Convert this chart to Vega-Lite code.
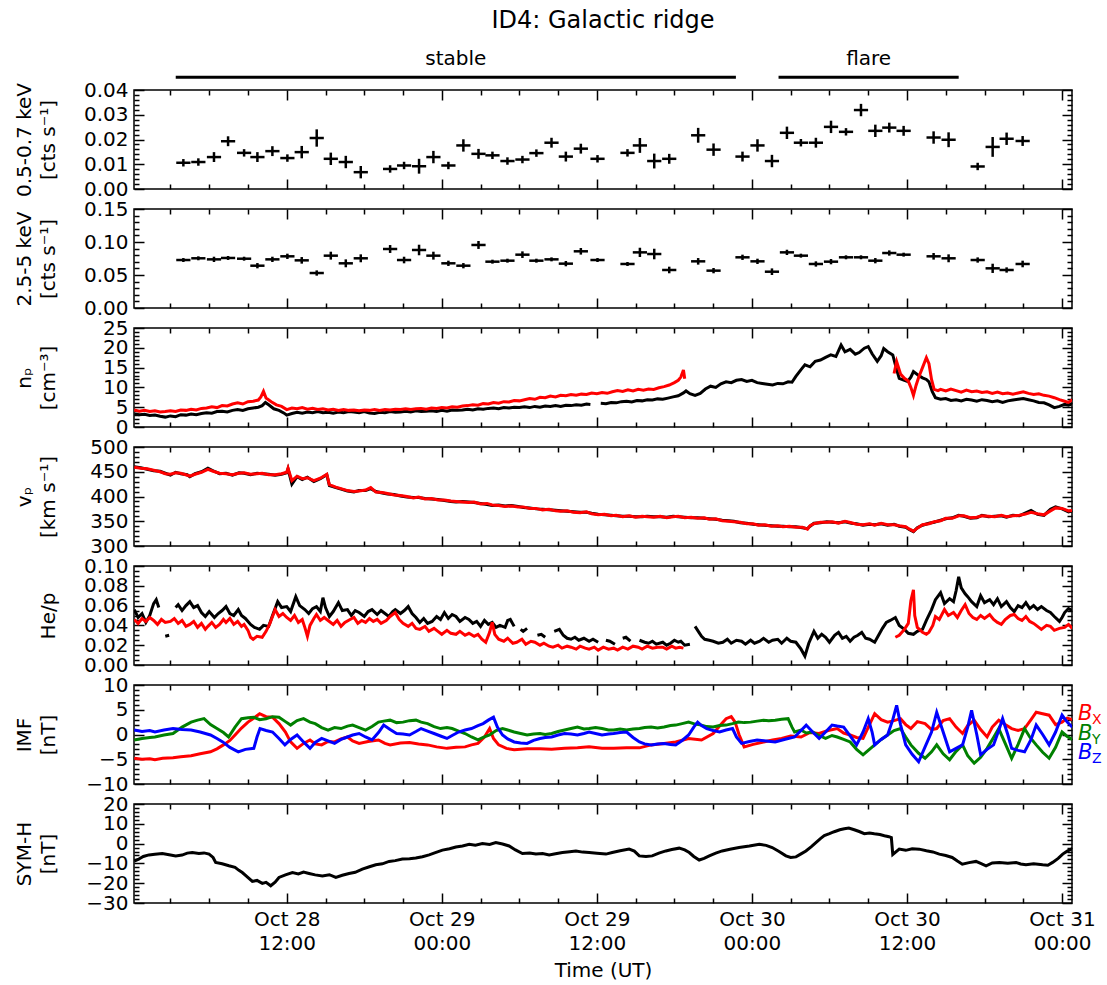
{
  "$schema": "https://vega.github.io/schema/vega-lite/v6.json",
  "background": "white",
  "padding": {"left": 13, "top": 9, "right": 5, "bottom": 5},
  "config": {
    "font": "DejaVu Sans",
    "view": {"stroke": "black", "strokeWidth": 1.5},
    "axis": {"domain": false, "grid": false, "labelFont": "DejaVu Sans", "labelFontSize": 20, "labelColor": "black", "titleFont": "DejaVu Sans", "titleFontSize": 20, "titleFontWeight": "normal", "titleColor": "black", "tickColor": "black", "tickWidth": 1.5, "labelOverlap": false, "labelBound": false, "labelFlush": false, "zindex": 1},
    "axisLeft": {"titleX": -110, "titleBaseline": "middle", "titleAngle": 270, "titleLineHeight": 24, "labelPadding": 6},
    "axisBottom": {"labelPadding": 6, "labelLineHeight": 24, "titlePadding": 7}
  },
  "datasets": {
    "periods": [
      {"lab": "stable", "t0": 3.41, "t1": 46.76},
      {"lab": "flare", "t0": 50.06, "t1": 64.0}
    ],
    "xr": [
      {"t":4.0,"a":0.0106,"ea":0.0015,"b":0.0727,"eb":0.003},
      {"t":5.16,"a":0.0109,"ea":0.0015,"b":0.0753,"eb":0.003},
      {"t":6.37,"a":0.0129,"ea":0.002,"b":0.0737,"eb":0.004},
      {"t":7.46,"a":0.0193,"ea":0.002,"b":0.0758,"eb":0.003},
      {"t":8.7,"a":0.0146,"ea":0.0015,"b":0.0747,"eb":0.003},
      {"t":9.73,"a":0.0129,"ea":0.002,"b":0.0641,"eb":0.004},
      {"t":10.89,"a":0.0153,"ea":0.002,"b":0.0737,"eb":0.004},
      {"t":12.05,"a":0.0125,"ea":0.0015,"b":0.0783,"eb":0.004},
      {"t":13.16,"a":0.0149,"ea":0.0025,"b":0.0722,"eb":0.005},
      {"t":14.32,"a":0.0206,"ea":0.0035,"b":0.053,"eb":0.004},
      {"t":15.41,"a":0.0122,"ea":0.0025,"b":0.0793,"eb":0.006},
      {"t":16.57,"a":0.0109,"ea":0.0025,"b":0.0677,"eb":0.006},
      {"t":17.73,"a":0.0068,"ea":0.0025,"b":0.0753,"eb":0.006},
      {"t":20.0,"a":0.0081,"ea":0.0015,"b":0.0894,"eb":0.006},
      {"t":21.08,"a":0.0095,"ea":0.0015,"b":0.0727,"eb":0.005},
      {"t":22.24,"a":0.0092,"ea":0.003,"b":0.0879,"eb":0.008},
      {"t":23.35,"a":0.0129,"ea":0.0025,"b":0.0793,"eb":0.006},
      {"t":24.51,"a":0.0095,"ea":0.0015,"b":0.0677,"eb":0.004},
      {"t":25.67,"a":0.0176,"ea":0.0025,"b":0.0641,"eb":0.004},
      {"t":26.84,"a":0.0142,"ea":0.002,"b":0.0955,"eb":0.006},
      {"t":27.92,"a":0.0136,"ea":0.0015,"b":0.0702,"eb":0.003},
      {"t":29.08,"a":0.0113,"ea":0.0015,"b":0.0717,"eb":0.003},
      {"t":30.24,"a":0.0119,"ea":0.0015,"b":0.0808,"eb":0.005},
      {"t":31.32,"a":0.0145,"ea":0.0015,"b":0.0717,"eb":0.003},
      {"t":32.49,"a":0.0187,"ea":0.002,"b":0.0737,"eb":0.003},
      {"t":33.6,"a":0.0131,"ea":0.002,"b":0.0672,"eb":0.004},
      {"t":34.76,"a":0.0163,"ea":0.002,"b":0.0859,"eb":0.005},
      {"t":36.05,"a":0.0122,"ea":0.0015,"b":0.0727,"eb":0.003},
      {"t":38.37,"a":0.0146,"ea":0.0015,"b":0.0667,"eb":0.003},
      {"t":39.33,"a":0.0176,"ea":0.003,"b":0.0843,"eb":0.007},
      {"t":40.44,"a":0.0113,"ea":0.003,"b":0.0818,"eb":0.008},
      {"t":41.6,"a":0.0122,"ea":0.002,"b":0.0576,"eb":0.005},
      {"t":43.84,"a":0.0217,"ea":0.003,"b":0.0707,"eb":0.005},
      {"t":45.03,"a":0.0159,"ea":0.0025,"b":0.0566,"eb":0.004},
      {"t":47.27,"a":0.0131,"ea":0.002,"b":0.0768,"eb":0.004},
      {"t":48.43,"a":0.0176,"ea":0.0025,"b":0.0707,"eb":0.004},
      {"t":49.55,"a":0.0113,"ea":0.0025,"b":0.055,"eb":0.005},
      {"t":50.71,"a":0.0227,"ea":0.0025,"b":0.0843,"eb":0.004},
      {"t":51.79,"a":0.0187,"ea":0.0015,"b":0.0793,"eb":0.003},
      {"t":52.95,"a":0.0187,"ea":0.002,"b":0.0667,"eb":0.004},
      {"t":54.12,"a":0.0251,"ea":0.0025,"b":0.0702,"eb":0.004},
      {"t":55.28,"a":0.0231,"ea":0.0015,"b":0.0768,"eb":0.003},
      {"t":56.44,"a":0.0319,"ea":0.0025,"b":0.0768,"eb":0.003},
      {"t":57.55,"a":0.0235,"ea":0.0025,"b":0.0717,"eb":0.004},
      {"t":58.63,"a":0.0248,"ea":0.002,"b":0.0833,"eb":0.004},
      {"t":59.74,"a":0.0235,"ea":0.002,"b":0.0808,"eb":0.003},
      {"t":62.06,"a":0.0208,"ea":0.0025,"b":0.0783,"eb":0.005},
      {"t":63.22,"a":0.0199,"ea":0.003,"b":0.0753,"eb":0.006},
      {"t":65.47,"a":0.0091,"ea":0.0015,"b":0.0727,"eb":0.004},
      {"t":66.63,"a":0.017,"ea":0.004,"b":0.0601,"eb":0.007},
      {"t":67.71,"a":0.0203,"ea":0.0025,"b":0.0576,"eb":0.004},
      {"t":68.95,"a":0.0194,"ea":0.002,"b":0.0667,"eb":0.005}
    ],
    "npB": [
      {"t":0.2,"v":3.3},{"t":0.6,"v":3.1},{"t":1.0,"v":3.2},{"t":1.4,"v":2.9},{"t":1.8,"v":3.0},{"t":2.2,"v":2.7},{"t":2.6,"v":2.5},{"t":3.0,"v":2.8},{"t":3.4,"v":2.6},{"t":3.8,"v":3.1},
      {"t":4.2,"v":3.0},{"t":4.6,"v":3.3},{"t":5.0,"v":3.1},{"t":5.4,"v":3.4},{"t":5.8,"v":3.6},{"t":6.2,"v":3.5},{"t":6.6,"v":3.9},{"t":7.0,"v":4.0},{"t":7.4,"v":3.8},{"t":7.8,"v":4.2},
      {"t":8.2,"v":4.4},{"t":8.6,"v":4.2},{"t":9.0,"v":4.6},{"t":9.4,"v":4.8},{"t":9.8,"v":5.0},{"t":10.1,"v":5.4},{"t":10.35,"v":6.2},{"t":10.6,"v":5.6},{"t":11.0,"v":4.6},{"t":11.4,"v":4.2},
      {"t":11.8,"v":3.5},{"t":12.0,"v":3.0},{"t":12.4,"v":3.4},{"t":12.8,"v":3.7},{"t":13.2,"v":3.5},{"t":13.6,"v":3.8},{"t":14.0,"v":3.6},{"t":14.4,"v":3.9},{"t":14.8,"v":3.6},{"t":15.2,"v":3.7},
      {"t":15.6,"v":3.5},{"t":16.0,"v":3.8},{"t":16.4,"v":3.6},{"t":16.8,"v":3.9},{"t":17.2,"v":3.8},{"t":17.6,"v":3.6},{"t":18.0,"v":3.9},{"t":18.4,"v":3.5},{"t":18.8,"v":3.4},{"t":19.2,"v":3.7},
      {"t":19.6,"v":3.6},{"t":20.0,"v":3.9},{"t":20.4,"v":3.7},{"t":20.8,"v":3.8},{"t":21.2,"v":4.0},{"t":21.6,"v":3.8},{"t":22.0,"v":4.1},{"t":22.4,"v":3.9},{"t":22.8,"v":4.0},{"t":23.2,"v":4.1},
      {"t":23.6,"v":3.9},{"t":24.0,"v":4.2},{"t":24.4,"v":4.0},{"t":24.8,"v":4.3},{"t":25.2,"v":4.2},{"t":25.6,"v":4.3},{"t":26.0,"v":4.5},{"t":26.4,"v":4.3},{"t":26.8,"v":4.6},{"t":27.2,"v":4.5},
      {"t":27.6,"v":4.7},{"t":28.0,"v":4.8},{"t":28.4,"v":4.6},{"t":28.8,"v":4.9},{"t":29.2,"v":4.8},{"t":29.6,"v":5.0},{"t":30.0,"v":4.9},{"t":30.4,"v":5.1},{"t":30.8,"v":4.9},{"t":31.2,"v":5.2},
      {"t":31.6,"v":5.0},{"t":32.0,"v":5.3},{"t":32.4,"v":5.2},{"t":32.8,"v":5.4},{"t":33.2,"v":5.2},{"t":33.6,"v":5.5},{"t":34.0,"v":5.4},{"t":34.4,"v":5.6},{"t":34.8,"v":5.5},{"t":35.2,"v":5.8},
      {"t":35.5,"v":5.7},{"t":35.9,"v":null},{"t":36.3,"v":6.0},{"t":36.7,"v":5.9},{"t":37.1,"v":6.2},{"t":37.5,"v":6.1},{"t":37.9,"v":6.4},{"t":38.3,"v":6.5},{"t":38.7,"v":6.3},{"t":39.1,"v":6.7},
      {"t":39.5,"v":6.6},{"t":39.9,"v":6.9},{"t":40.3,"v":6.8},{"t":40.7,"v":7.1},{"t":41.1,"v":7.0},{"t":41.5,"v":7.3},{"t":41.9,"v":7.6},{"t":42.3,"v":7.9},{"t":42.7,"v":8.6},{"t":42.9,"v":9.1},
      {"t":43.2,"v":8.4},{"t":43.6,"v":8.0},{"t":44.0,"v":8.5},{"t":44.4,"v":9.6},{"t":44.8,"v":10.3},{"t":45.2,"v":10.0},{"t":45.6,"v":10.9},{"t":46.0,"v":11.4},{"t":46.4,"v":11.2},{"t":46.8,"v":11.8},
      {"t":47.2,"v":12.0},{"t":47.6,"v":11.5},{"t":48.0,"v":11.8},{"t":48.4,"v":11.2},{"t":48.8,"v":11.0},{"t":49.2,"v":10.8},{"t":49.6,"v":10.6},{"t":50.0,"v":11.0},{"t":50.4,"v":10.9},{"t":50.8,"v":11.4},
      {"t":51.1,"v":11.3},{"t":51.4,"v":12.8},{"t":51.8,"v":14.5},{"t":52.1,"v":15.7},{"t":52.5,"v":15.2},{"t":52.9,"v":16.6},{"t":53.3,"v":16.9},{"t":53.7,"v":17.6},{"t":54.1,"v":18.2},{"t":54.5,"v":17.8},
      {"t":54.9,"v":20.7},{"t":55.2,"v":19.0},{"t":55.6,"v":19.6},{"t":56.0,"v":18.4},{"t":56.3,"v":18.8},{"t":56.7,"v":19.9},{"t":57.0,"v":20.3},{"t":57.3,"v":18.5},{"t":57.7,"v":16.6},{"t":58.0,"v":18.0},
      {"t":58.2,"v":19.8},{"t":58.5,"v":19.0},{"t":58.9,"v":18.2},{"t":59.2,"v":14.5},{"t":59.4,"v":12.3},{"t":59.8,"v":11.8},{"t":60.05,"v":11.5},{"t":60.3,"v":12.6},{"t":60.5,"v":14.0},{"t":60.9,"v":13.0},
      {"t":61.2,"v":12.4},{"t":61.5,"v":12.0},{"t":61.7,"v":11.4},{"t":61.95,"v":9.0},{"t":62.2,"v":7.4},{"t":62.6,"v":7.0},{"t":63.0,"v":7.2},{"t":63.4,"v":6.7},{"t":63.8,"v":6.9},{"t":64.2,"v":6.6},
      {"t":64.6,"v":7.0},{"t":65.0,"v":6.8},{"t":65.4,"v":6.5},{"t":65.8,"v":6.9},{"t":66.2,"v":6.7},{"t":66.6,"v":6.4},{"t":67.0,"v":6.6},{"t":67.4,"v":6.2},{"t":67.8,"v":6.6},{"t":68.2,"v":6.8},
      {"t":68.6,"v":7.0},{"t":69.0,"v":7.2},{"t":69.4,"v":6.9},{"t":69.8,"v":6.6},{"t":70.2,"v":6.2},{"t":70.6,"v":6.1},{"t":71.0,"v":5.6},{"t":71.4,"v":4.9},{"t":71.8,"v":5.2},{"t":72.2,"v":5.7},
      {"t":72.5,"v":5.5},{"t":72.8,"v":5.9}
    ],
    "npR": [
      {"t":0.2,"v":4.3},{"t":0.6,"v":4.0},{"t":1.0,"v":4.2},{"t":1.4,"v":3.9},{"t":1.8,"v":4.1},{"t":2.2,"v":3.8},{"t":2.6,"v":3.9},{"t":3.0,"v":4.1},{"t":3.4,"v":3.9},{"t":3.8,"v":4.3},
      {"t":4.2,"v":4.2},{"t":4.6,"v":4.5},{"t":5.0,"v":4.3},{"t":5.4,"v":4.7},{"t":5.8,"v":4.8},{"t":6.2,"v":5.1},{"t":6.6,"v":4.9},{"t":7.0,"v":5.4},{"t":7.4,"v":5.3},{"t":7.8,"v":5.8},
      {"t":8.2,"v":6.1},{"t":8.6,"v":5.8},{"t":9.0,"v":6.4},{"t":9.4,"v":6.5},{"t":9.8,"v":6.8},{"t":10.0,"v":7.6},{"t":10.2,"v":9.0},{"t":10.4,"v":7.3},{"t":10.8,"v":6.4},{"t":11.2,"v":5.6},
      {"t":11.6,"v":5.2},{"t":12.0,"v":4.4},{"t":12.4,"v":4.8},{"t":12.8,"v":4.6},{"t":13.2,"v":4.9},{"t":13.6,"v":4.5},{"t":14.0,"v":4.7},{"t":14.4,"v":4.4},{"t":14.8,"v":4.6},{"t":15.2,"v":4.3},
      {"t":15.6,"v":4.5},{"t":16.0,"v":4.2},{"t":16.4,"v":4.4},{"t":16.8,"v":4.2},{"t":17.2,"v":4.3},{"t":17.6,"v":4.1},{"t":18.0,"v":4.3},{"t":18.4,"v":4.2},{"t":18.8,"v":4.4},{"t":19.2,"v":4.2},
      {"t":19.6,"v":4.4},{"t":20.0,"v":4.3},{"t":20.4,"v":4.5},{"t":20.8,"v":4.4},{"t":21.2,"v":4.6},{"t":21.6,"v":4.4},{"t":22.0,"v":4.6},{"t":22.4,"v":4.7},{"t":22.8,"v":4.5},{"t":23.2,"v":4.8},
      {"t":23.6,"v":4.7},{"t":24.0,"v":4.9},{"t":24.4,"v":4.8},{"t":24.8,"v":5.1},{"t":25.2,"v":5.0},{"t":25.6,"v":5.3},{"t":26.0,"v":5.4},{"t":26.4,"v":5.6},{"t":26.8,"v":5.5},{"t":27.2,"v":5.9},
      {"t":27.6,"v":5.8},{"t":28.0,"v":6.2},{"t":28.4,"v":6.0},{"t":28.8,"v":6.4},{"t":29.2,"v":6.3},{"t":29.6,"v":6.7},{"t":30.0,"v":6.6},{"t":30.4,"v":6.9},{"t":30.8,"v":7.2},{"t":31.2,"v":7.0},
      {"t":31.6,"v":7.5},{"t":32.0,"v":7.4},{"t":32.4,"v":7.8},{"t":32.8,"v":7.6},{"t":33.2,"v":8.0},{"t":33.6,"v":7.9},{"t":34.0,"v":8.2},{"t":34.4,"v":8.0},{"t":34.8,"v":8.3},{"t":35.2,"v":8.2},
      {"t":35.6,"v":8.6},{"t":36.0,"v":8.4},{"t":36.4,"v":8.7},{"t":36.8,"v":8.5},{"t":37.2,"v":8.9},{"t":37.6,"v":9.2},{"t":38.0,"v":9.0},{"t":38.4,"v":9.4},{"t":38.8,"v":9.1},{"t":39.2,"v":9.5},
      {"t":39.6,"v":9.3},{"t":40.0,"v":9.6},{"t":40.4,"v":9.5},{"t":40.8,"v":9.9},{"t":41.2,"v":10.2},{"t":41.6,"v":10.6},{"t":42.0,"v":11.2},{"t":42.3,"v":11.8},{"t":42.5,"v":12.6},{"t":42.7,"v":14.4},
      {"t":42.8,"v":12.2},{"t":43.0,"v":null},
      {"t":59.0,"v":13.5},{"t":59.2,"v":16.5},{"t":59.5,"v":13.4},{"t":59.8,"v":12.3},{"t":60.1,"v":11.6},{"t":60.3,"v":10.0},{"t":60.5,"v":8.0},{"t":60.7,"v":10.5},{"t":60.9,"v":12.5},{"t":61.2,"v":15.0},
      {"t":61.5,"v":17.5},{"t":61.7,"v":16.0},{"t":61.9,"v":12.0},{"t":62.1,"v":9.5},{"t":62.4,"v":9.2},{"t":62.6,"v":9.5},{"t":63.0,"v":9.1},{"t":63.4,"v":9.6},{"t":63.8,"v":9.2},{"t":64.2,"v":8.8},
      {"t":64.6,"v":9.3},{"t":65.0,"v":8.9},{"t":65.4,"v":9.1},{"t":65.8,"v":8.7},{"t":66.2,"v":8.9},{"t":66.6,"v":8.5},{"t":67.0,"v":8.8},{"t":67.4,"v":8.4},{"t":67.8,"v":8.6},{"t":68.2,"v":8.3},
      {"t":68.6,"v":8.6},{"t":69.0,"v":8.9},{"t":69.4,"v":8.5},{"t":69.8,"v":8.2},{"t":70.2,"v":8.4},{"t":70.6,"v":8.0},{"t":71.0,"v":7.8},{"t":71.4,"v":7.4},{"t":71.8,"v":6.9},{"t":72.2,"v":6.5},
      {"t":72.5,"v":6.2},{"t":72.8,"v":6.9}
    ],
    "vp": [
      {"t":0.2,"b":460,"r":459},{"t":0.7,"b":458,"r":457},{"t":1.2,"b":455,"r":456},{"t":1.7,"b":452,"r":453},{"t":2.2,"b":451,"r":450},{"t":2.6,"b":447,"r":446},{"t":3.0,"b":443,"r":445},{"t":3.4,"b":449,"r":448},
      {"t":3.8,"b":446,"r":447},{"t":4.3,"b":444,"r":443},{"t":4.5,"b":440,"r":441},{"t":4.9,"b":446,"r":445},{"t":5.4,"b":450,"r":449},{"t":5.9,"b":457,"r":455},{"t":6.3,"b":452,"r":451},{"t":6.8,"b":446,"r":447},
      {"t":7.3,"b":447,"r":446},{"t":7.8,"b":443,"r":444},{"t":8.3,"b":448,"r":447},{"t":8.7,"b":447,"r":448},{"t":9.2,"b":444,"r":445},{"t":9.7,"b":447,"r":446},{"t":10.1,"b":446,"r":447},{"t":10.6,"b":445,"r":444},
      {"t":11.1,"b":443,"r":444},{"t":11.6,"b":445,"r":446},{"t":12.0,"b":448,"r":449},{"t":12.1,"b":456,"r":457},{"t":12.4,"b":425,"r":432},{"t":12.8,"b":440,"r":441},{"t":13.2,"b":434,"r":436},{"t":13.6,"b":439,"r":438},
      {"t":14.1,"b":430,"r":432},{"t":14.6,"b":436,"r":437},{"t":15.1,"b":444,"r":445},{"t":15.3,"b":422,"r":424},{"t":15.8,"b":418,"r":419},{"t":16.2,"b":415,"r":416},{"t":16.7,"b":411,"r":412},{"t":17.2,"b":409,"r":410},
      {"t":17.6,"b":412,"r":411},{"t":18.1,"b":412,"r":413},{"t":18.5,"b":416,"r":418},{"t":18.9,"b":410,"r":409},{"t":19.4,"b":407,"r":408},{"t":19.8,"b":405,"r":406},{"t":20.3,"b":404,"r":403},{"t":20.8,"b":401,"r":402},
      {"t":21.3,"b":399,"r":400},{"t":21.8,"b":398,"r":397},{"t":22.2,"b":398,"r":399},{"t":22.7,"b":396,"r":395},{"t":23.2,"b":395,"r":396},{"t":23.7,"b":394,"r":393},{"t":24.2,"b":392,"r":393},{"t":24.7,"b":390,"r":391},
      {"t":25.1,"b":389,"r":390},{"t":25.6,"b":390,"r":389},{"t":26.1,"b":389,"r":388},{"t":26.5,"b":388,"r":389},{"t":27.0,"b":386,"r":385},{"t":27.5,"b":384,"r":386},{"t":27.9,"b":382,"r":383},{"t":28.4,"b":383,"r":382},
      {"t":28.9,"b":381,"r":380},{"t":29.4,"b":382,"r":381},{"t":29.9,"b":380,"r":379},{"t":30.3,"b":378,"r":379},{"t":30.8,"b":377,"r":376},{"t":31.3,"b":375,"r":376},{"t":31.8,"b":374,"r":373},{"t":32.3,"b":373,"r":374},
      {"t":32.8,"b":372,"r":371},{"t":33.2,"b":371,"r":370},{"t":33.7,"b":370,"r":371},{"t":34.2,"b":369,"r":368},{"t":34.7,"b":368,"r":367},{"t":35.2,"b":368,"r":369},{"t":35.6,"b":366,"r":365},{"t":36.1,"b":364,"r":363},
      {"t":36.6,"b":363,"r":364},{"t":37.1,"b":362,"r":361},{"t":37.5,"b":361,"r":362},{"t":38.0,"b":360,"r":359},{"t":38.5,"b":360,"r":361},{"t":39.0,"b":359,"r":358},{"t":39.5,"b":359,"r":360},{"t":39.9,"b":360,"r":359},
      {"t":40.4,"b":359,"r":358},{"t":40.9,"b":359,"r":360},{"t":41.4,"b":358,"r":357},{"t":41.9,"b":360,"r":359},{"t":42.3,"b":359,"r":360},{"t":42.8,"b":358,"r":357},{"t":43.3,"b":357,"r":358},{"t":43.8,"b":357,"r":356},
      {"t":44.3,"b":356,"r":357},{"t":44.7,"b":355,"r":354},{"t":45.2,"b":354,"r":355},{"t":45.7,"b":352,"r":351},{"t":46.2,"b":351,"r":350},{"t":46.6,"b":350,"r":349},{"t":47.1,"b":347,"r":348},{"t":47.6,"b":346,"r":345},
      {"t":48.1,"b":344,"r":345},{"t":48.5,"b":343,"r":342},{"t":49.0,"b":342,"r":343},{"t":49.5,"b":341,"r":340},{"t":50.0,"b":340,"r":341},{"t":50.4,"b":340,"r":339},{"t":50.9,"b":339,"r":340},{"t":51.4,"b":339,"r":338},
      {"t":51.9,"b":337,"r":338},{"t":52.3,"b":335,"r":334},{"t":52.5,"b":340,"r":341},{"t":52.8,"b":346,"r":345},{"t":53.3,"b":347,"r":348},{"t":53.8,"b":349,"r":348},{"t":54.2,"b":348,"r":349},{"t":54.7,"b":347,"r":346},
      {"t":55.2,"b":349,"r":350},{"t":55.7,"b":346,"r":347},{"t":56.1,"b":345,"r":344},{"t":56.6,"b":342,"r":343},{"t":57.1,"b":344,"r":345},{"t":57.5,"b":343,"r":342},{"t":58.0,"b":345,"r":346},{"t":58.5,"b":342,"r":343},
      {"t":59.0,"b":344,"r":343},{"t":59.4,"b":340,"r":341},{"t":59.9,"b":338,"r":339},{"t":60.2,"b":333,"r":334},{"t":60.5,"b":329,"r":330},{"t":60.8,"b":337,"r":336},{"t":61.2,"b":342,"r":343},{"t":61.7,"b":346,"r":345},
      {"t":62.1,"b":348,"r":349},{"t":62.6,"b":352,"r":351},{"t":63.0,"b":355,"r":356},{"t":63.5,"b":357,"r":356},{"t":64.0,"b":362,"r":361},{"t":64.4,"b":360,"r":361},{"t":64.9,"b":356,"r":357},{"t":65.4,"b":357,"r":358},
      {"t":65.8,"b":362,"r":361},{"t":66.3,"b":359,"r":360},{"t":66.8,"b":360,"r":359},{"t":67.3,"b":361,"r":362},{"t":67.7,"b":358,"r":359},{"t":68.2,"b":362,"r":361},{"t":68.7,"b":361,"r":362},{"t":69.1,"b":366,"r":364},
      {"t":69.6,"b":372,"r":368},{"t":70.1,"b":364,"r":365},{"t":70.6,"b":362,"r":363},{"t":71.1,"b":374,"r":371},{"t":71.5,"b":379,"r":377},{"t":72.0,"b":375,"r":376},{"t":72.5,"b":369,"r":371},{"t":72.8,"b":371,"r":372}
    ],
    "heB": [
      {"t":0.2,"v":0.056},{"t":0.5,"v":0.048},{"t":0.8,"v":0.052},{"t":1.1,"v":0.043},{"t":1.4,"v":0.05},{"t":1.7,"v":0.062},{"t":1.9,"v":0.066},{"t":2.1,"v":0.058},{"t":2.3,"v":null},{"t":2.6,"v":0.029},
      {"t":2.9,"v":0.03},{"t":3.1,"v":null},{"t":3.4,"v":0.058},{"t":3.6,"v":0.061},{"t":3.9,"v":0.055},{"t":4.2,"v":0.06},{"t":4.5,"v":0.064},{"t":4.8,"v":0.058},{"t":5.1,"v":0.06},{"t":5.4,"v":0.053},
      {"t":5.7,"v":0.049},{"t":6.0,"v":0.054},{"t":6.4,"v":0.048},{"t":6.7,"v":0.052},{"t":7.0,"v":0.055},{"t":7.3,"v":0.059},{"t":7.6,"v":0.052},{"t":7.9,"v":0.05},{"t":8.25,"v":0.056},{"t":8.5,"v":0.05},
      {"t":8.8,"v":0.047},{"t":9.2,"v":0.041},{"t":9.5,"v":0.038},{"t":9.9,"v":0.036},{"t":10.2,"v":0.04},{"t":10.6,"v":0.039},{"t":10.9,"v":0.05},{"t":11.3,"v":0.064},{"t":11.6,"v":0.058},{"t":12.0,"v":0.059},
      {"t":12.3,"v":0.054},{"t":12.7,"v":0.069},{"t":13.0,"v":0.06},{"t":13.4,"v":0.056},{"t":13.7,"v":0.052},{"t":14.0,"v":0.057},{"t":14.3,"v":0.059},{"t":14.6,"v":0.054},{"t":14.8,"v":0.068},{"t":15.0,"v":0.058},
      {"t":15.3,"v":0.049},{"t":15.6,"v":0.054},{"t":16.0,"v":0.063},{"t":16.3,"v":0.055},{"t":16.7,"v":0.056},{"t":17.0,"v":0.05},{"t":17.3,"v":0.055},{"t":17.6,"v":0.053},{"t":18.0,"v":0.049},{"t":18.3,"v":0.054},
      {"t":18.6,"v":0.056},{"t":19.0,"v":0.051},{"t":19.3,"v":0.055},{"t":19.5,"v":0.053},{"t":19.9,"v":0.049},{"t":20.2,"v":0.054},{"t":20.4,"v":0.056},{"t":20.8,"v":0.052},{"t":21.1,"v":0.055},{"t":21.4,"v":0.059},
      {"t":21.7,"v":0.052},{"t":22.0,"v":0.048},{"t":22.3,"v":0.043},{"t":22.6,"v":0.047},{"t":22.9,"v":0.042},{"t":23.25,"v":0.044},{"t":23.6,"v":0.049},{"t":23.9,"v":0.046},{"t":24.2,"v":0.053},{"t":24.5,"v":0.047},
      {"t":24.8,"v":0.051},{"t":25.1,"v":0.049},{"t":25.4,"v":0.044},{"t":25.8,"v":0.048},{"t":26.1,"v":0.046},{"t":26.4,"v":0.042},{"t":26.7,"v":0.044},{"t":27.0,"v":0.039},{"t":27.3,"v":0.045},{"t":27.6,"v":0.041},
      {"t":27.9,"v":0.043},{"t":28.2,"v":0.038},{"t":28.5,"v":0.04},{"t":28.9,"v":0.038},{"t":29.1,"v":0.045},{"t":29.3,"v":0.046},{"t":29.6,"v":0.039},{"t":29.9,"v":null},{"t":30.1,"v":0.036},{"t":30.3,"v":0.034},
      {"t":30.6,"v":0.037},{"t":30.9,"v":null},{"t":31.4,"v":0.03},{"t":31.7,"v":0.031},{"t":32.0,"v":0.028},{"t":32.3,"v":null},{"t":32.7,"v":0.034},{"t":33.1,"v":0.036},{"t":33.4,"v":0.03},{"t":33.7,"v":0.027},
      {"t":34.0,"v":0.026},{"t":34.3,"v":0.028},{"t":34.6,"v":0.025},{"t":35.0,"v":0.027},{"t":35.4,"v":0.024},{"t":35.7,"v":0.026},{"t":36.1,"v":0.023},{"t":36.4,"v":null},{"t":36.7,"v":0.025},{"t":37.0,"v":0.024},
      {"t":37.4,"v":0.021},{"t":37.7,"v":null},{"t":38.0,"v":0.027},{"t":38.25,"v":0.028},{"t":38.6,"v":0.024},{"t":38.9,"v":null},{"t":39.3,"v":0.025},{"t":39.7,"v":0.023},{"t":40.0,"v":0.022},{"t":40.3,"v":0.024},
      {"t":40.6,"v":0.021},{"t":41.1,"v":0.023},{"t":41.4,"v":0.02},{"t":41.7,"v":0.022},{"t":42.0,"v":0.025},{"t":42.3,"v":0.023},{"t":42.5,"v":0.024},{"t":42.8,"v":0.02},{"t":43.2,"v":0.021},{"t":43.4,"v":null},
      {"t":43.6,"v":0.039},{"t":43.9,"v":0.033},{"t":44.1,"v":0.029},{"t":44.35,"v":0.026},{"t":44.7,"v":0.025},{"t":45.0,"v":0.024},{"t":45.4,"v":0.022},{"t":45.75,"v":0.023},{"t":46.1,"v":0.026},{"t":46.4,"v":0.022},
      {"t":46.8,"v":0.025},{"t":47.2,"v":0.024},{"t":47.5,"v":0.021},{"t":47.9,"v":0.025},{"t":48.2,"v":0.022},{"t":48.6,"v":0.024},{"t":48.9,"v":0.027},{"t":49.3,"v":0.023},{"t":49.6,"v":0.025},{"t":50.0,"v":0.026},
      {"t":50.3,"v":0.022},{"t":50.7,"v":0.027},{"t":51.0,"v":0.024},{"t":51.4,"v":0.023},{"t":51.8,"v":0.016},{"t":52.1,"v":0.009},{"t":52.4,"v":0.022},{"t":52.8,"v":0.034},{"t":53.1,"v":0.027},{"t":53.4,"v":0.031},
      {"t":53.7,"v":0.028},{"t":54.0,"v":0.023},{"t":54.4,"v":0.03},{"t":54.7,"v":0.033},{"t":55.0,"v":0.027},{"t":55.3,"v":0.029},{"t":55.6,"v":0.024},{"t":55.9,"v":0.028},{"t":56.2,"v":0.03},{"t":56.5,"v":0.033},
      {"t":56.8,"v":0.027},{"t":57.1,"v":0.026},{"t":57.5,"v":0.023},{"t":57.8,"v":0.03},{"t":58.1,"v":0.037},{"t":58.4,"v":0.043},{"t":58.7,"v":0.045},{"t":59.1,"v":0.048},{"t":59.4,"v":0.04},{"t":59.8,"v":0.036},
      {"t":60.1,"v":0.032},{"t":60.5,"v":0.031},{"t":60.8,"v":0.034},{"t":61.2,"v":0.036},{"t":61.5,"v":0.045},{"t":61.9,"v":0.056},{"t":62.2,"v":0.066},{"t":62.6,"v":0.073},{"t":62.9,"v":0.062},{"t":63.3,"v":0.067},
      {"t":63.6,"v":0.064},{"t":63.8,"v":0.075},{"t":64.0,"v":0.089},{"t":64.2,"v":0.078},{"t":64.5,"v":0.072},{"t":64.7,"v":0.069},{"t":65.0,"v":0.064},{"t":65.4,"v":0.059},{"t":65.7,"v":0.07},{"t":66.0,"v":0.063},
      {"t":66.4,"v":0.066},{"t":66.7,"v":0.061},{"t":67.0,"v":0.067},{"t":67.3,"v":0.059},{"t":67.7,"v":0.064},{"t":68.0,"v":0.058},{"t":68.3,"v":0.054},{"t":68.6,"v":0.06},{"t":68.9,"v":0.058},{"t":69.2,"v":0.063},
      {"t":69.5,"v":0.057},{"t":69.8,"v":0.06},{"t":70.1,"v":0.056},{"t":70.4,"v":0.059},{"t":70.8,"v":0.055},{"t":71.1,"v":0.053},{"t":71.4,"v":0.049},{"t":71.8,"v":0.044},{"t":72.0,"v":0.048},{"t":72.2,"v":0.053},
      {"t":72.5,"v":0.057},{"t":72.8,"v":0.055}
    ],
    "heR": [
      {"t":0.2,"v":0.046},{"t":0.5,"v":0.042},{"t":0.8,"v":0.047},{"t":1.1,"v":0.044},{"t":1.4,"v":0.048},{"t":1.7,"v":0.045},{"t":2.0,"v":0.041},{"t":2.3,"v":0.046},{"t":2.6,"v":0.043},{"t":3.0,"v":0.044},
      {"t":3.3,"v":0.047},{"t":3.6,"v":0.042},{"t":3.9,"v":0.045},{"t":4.2,"v":0.039},{"t":4.5,"v":0.041},{"t":4.8,"v":0.044},{"t":5.1,"v":0.038},{"t":5.4,"v":0.042},{"t":5.7,"v":0.036},{"t":5.9,"v":0.039},
      {"t":6.2,"v":0.043},{"t":6.5,"v":0.038},{"t":6.8,"v":0.041},{"t":7.1,"v":0.046},{"t":7.3,"v":0.043},{"t":7.6,"v":0.047},{"t":7.9,"v":0.041},{"t":8.2,"v":0.044},{"t":8.5,"v":0.039},{"t":8.7,"v":0.041},
      {"t":9.0,"v":0.035},{"t":9.2,"v":0.028},{"t":9.4,"v":0.026},{"t":9.7,"v":0.029},{"t":10.1,"v":0.028},{"t":10.4,"v":0.034},{"t":10.7,"v":0.042},{"t":11.1,"v":0.056},{"t":11.4,"v":0.049},{"t":11.7,"v":0.052},
      {"t":12.0,"v":0.048},{"t":12.3,"v":0.045},{"t":12.6,"v":0.05},{"t":12.9,"v":0.043},{"t":13.2,"v":0.046},{"t":13.4,"v":0.038},{"t":13.6,"v":0.029},{"t":13.8,"v":0.04},{"t":14.1,"v":0.047},{"t":14.3,"v":0.051},
      {"t":14.6,"v":0.045},{"t":14.9,"v":0.048},{"t":15.3,"v":0.044},{"t":15.6,"v":0.041},{"t":15.9,"v":0.045},{"t":16.2,"v":0.039},{"t":16.5,"v":0.043},{"t":16.9,"v":0.046},{"t":17.2,"v":0.048},{"t":17.5,"v":0.042},
      {"t":17.8,"v":0.045},{"t":18.1,"v":0.043},{"t":18.4,"v":0.047},{"t":18.7,"v":0.044},{"t":19.0,"v":0.046},{"t":19.3,"v":0.042},{"t":19.7,"v":0.045},{"t":20.0,"v":0.049},{"t":20.4,"v":0.053},{"t":20.7,"v":0.046},
      {"t":21.0,"v":0.042},{"t":21.4,"v":0.039},{"t":21.7,"v":0.042},{"t":22.0,"v":0.037},{"t":22.3,"v":0.036},{"t":22.7,"v":0.039},{"t":23.0,"v":0.034},{"t":23.4,"v":0.037},{"t":23.7,"v":0.034},{"t":24.0,"v":0.031},
      {"t":24.4,"v":0.035},{"t":24.7,"v":0.032},{"t":25.1,"v":0.031},{"t":25.4,"v":0.034},{"t":25.8,"v":0.03},{"t":26.1,"v":0.032},{"t":26.5,"v":0.029},{"t":26.8,"v":0.031},{"t":27.1,"v":0.026},{"t":27.4,"v":0.023},
      {"t":27.7,"v":0.033},{"t":27.9,"v":0.043},{"t":28.1,"v":0.031},{"t":28.4,"v":0.026},{"t":28.8,"v":0.024},{"t":29.1,"v":0.027},{"t":29.5,"v":0.022},{"t":29.8,"v":0.023},{"t":30.2,"v":0.026},{"t":30.5,"v":0.021},
      {"t":30.9,"v":0.024},{"t":31.2,"v":0.023},{"t":31.6,"v":0.02},{"t":31.9,"v":0.022},{"t":32.3,"v":0.019},{"t":32.6,"v":0.018},{"t":33.0,"v":0.02},{"t":33.3,"v":0.017},{"t":33.7,"v":0.019},{"t":34.0,"v":0.018},
      {"t":34.4,"v":0.016},{"t":34.7,"v":0.019},{"t":35.1,"v":0.017},{"t":35.4,"v":0.016},{"t":35.8,"v":0.018},{"t":36.1,"v":0.015},{"t":36.5,"v":0.018},{"t":36.9,"v":0.016},{"t":37.3,"v":0.017},{"t":37.6,"v":0.015},
      {"t":38.0,"v":0.018},{"t":38.4,"v":0.016},{"t":38.8,"v":0.019},{"t":39.2,"v":0.018},{"t":39.5,"v":0.016},{"t":39.9,"v":0.019},{"t":40.3,"v":0.017},{"t":40.7,"v":0.018},{"t":41.1,"v":0.018},{"t":41.4,"v":0.016},
      {"t":41.8,"v":0.019},{"t":42.1,"v":0.017},{"t":42.4,"v":0.018},{"t":42.7,"v":0.017},{"t":43.0,"v":null},
      {"t":59.1,"v":0.028},{"t":59.4,"v":0.03},{"t":59.8,"v":0.036},{"t":60.1,"v":0.042},{"t":60.3,"v":0.065},{"t":60.5,"v":0.076},{"t":60.6,"v":0.05},{"t":60.8,"v":0.038},{"t":61.2,"v":0.033},{"t":61.5,"v":0.031},
      {"t":61.7,"v":0.033},{"t":62.0,"v":0.04},{"t":62.2,"v":0.049},{"t":62.5,"v":0.046},{"t":62.9,"v":0.056},{"t":63.2,"v":0.05},{"t":63.6,"v":0.053},{"t":63.9,"v":0.048},{"t":64.2,"v":0.055},{"t":64.5,"v":0.061},
      {"t":64.8,"v":0.052},{"t":65.1,"v":0.048},{"t":65.4,"v":0.046},{"t":65.7,"v":0.05},{"t":66.0,"v":0.047},{"t":66.4,"v":0.051},{"t":66.7,"v":0.046},{"t":67.0,"v":0.043},{"t":67.3,"v":0.041},{"t":67.6,"v":0.046},
      {"t":68.0,"v":0.05},{"t":68.3,"v":0.051},{"t":68.6,"v":0.047},{"t":68.9,"v":0.045},{"t":69.2,"v":0.049},{"t":69.5,"v":0.044},{"t":69.8,"v":0.042},{"t":70.1,"v":0.039},{"t":70.4,"v":0.036},{"t":70.8,"v":0.04},
      {"t":71.1,"v":0.039},{"t":71.4,"v":0.035},{"t":71.8,"v":0.037},{"t":72.2,"v":0.038},{"t":72.5,"v":0.041},{"t":72.8,"v":0.037}
    ],
    "bx": [
      {"t":0.2,"v":-4.8},{"t":0.8,"v":-5.0},{"t":1.4,"v":-4.9},{"t":1.8,"v":-5.1},{"t":2.4,"v":-4.8},{"t":3.2,"v":-4.7},{"t":3.8,"v":-4.5},{"t":4.6,"v":-4.3},{"t":5.3,"v":-3.9},{"t":6.1,"v":-3.5},
      {"t":6.6,"v":-2.9},{"t":7.1,"v":-2.1},{"t":7.6,"v":-1.2},{"t":8.0,"v":-0.1},{"t":8.5,"v":1.3},{"t":9.0,"v":2.5},{"t":9.5,"v":3.4},{"t":9.9,"v":4.2},{"t":10.4,"v":3.6},{"t":10.9,"v":3.5},
      {"t":11.4,"v":2.2},{"t":11.9,"v":0.5},{"t":12.3,"v":-1.5},{"t":12.8,"v":-2.8},{"t":13.3,"v":-1.8},{"t":13.8,"v":-1.1},{"t":14.2,"v":-1.9},{"t":14.7,"v":-2.1},{"t":15.2,"v":-1.4},{"t":15.7,"v":-1.5},
      {"t":16.2,"v":-0.9},{"t":16.7,"v":-0.5},{"t":17.1,"v":-1.3},{"t":17.6,"v":-1.8},{"t":18.3,"v":-1.4},{"t":19.1,"v":-1.1},{"t":19.6,"v":-1.8},{"t":20.0,"v":-2.1},{"t":20.8,"v":-1.7},{"t":21.5,"v":-1.6},
      {"t":22.2,"v":-1.9},{"t":22.9,"v":-2.1},{"t":23.6,"v":-2.5},{"t":24.4,"v":-2.8},{"t":25.1,"v":-2.6},{"t":25.8,"v":-2.5},{"t":26.3,"v":-2.1},{"t":26.8,"v":-1.8},{"t":27.3,"v":-0.5},{"t":27.7,"v":1.2},
      {"t":28.0,"v":-0.8},{"t":28.4,"v":-2.1},{"t":29.0,"v":-2.8},{"t":29.6,"v":-3.1},{"t":30.6,"v":-2.9},{"t":31.6,"v":-2.9},{"t":32.5,"v":-3.0},{"t":33.5,"v":-2.8},{"t":34.5,"v":-2.7},{"t":35.4,"v":-2.5},
      {"t":36.4,"v":-2.8},{"t":37.3,"v":-2.8},{"t":38.3,"v":-2.7},{"t":39.3,"v":-2.7},{"t":40.2,"v":-2.1},{"t":41.2,"v":-1.8},{"t":42.1,"v":-1.5},{"t":43.1,"v":-0.8},{"t":44.1,"v":-1.1},{"t":45.0,"v":0.2},
      {"t":45.6,"v":2.0},{"t":46.0,"v":3.2},{"t":46.4,"v":3.6},{"t":46.7,"v":2.5},{"t":47.0,"v":0.0},{"t":47.4,"v":-2.5},{"t":48.1,"v":-2.0},{"t":48.9,"v":-1.5},{"t":49.6,"v":-1.1},{"t":50.3,"v":-0.8},
      {"t":51.0,"v":-0.3},{"t":51.8,"v":-0.5},{"t":52.5,"v":0.4},{"t":53.2,"v":0.2},{"t":53.9,"v":0.8},{"t":54.6,"v":1.2},{"t":55.1,"v":0.3},{"t":55.6,"v":-0.1},{"t":56.1,"v":-0.6},{"t":56.6,"v":-0.8},
      {"t":57.1,"v":2.0},{"t":57.5,"v":4.2},{"t":58.0,"v":3.0},{"t":58.5,"v":2.5},{"t":59.0,"v":2.8},{"t":59.5,"v":3.2},{"t":59.9,"v":2.0},{"t":60.3,"v":1.2},{"t":60.8,"v":2.6},{"t":61.4,"v":2.2},
      {"t":61.9,"v":1.0},{"t":62.3,"v":1.2},{"t":62.8,"v":2.8},{"t":63.3,"v":3.2},{"t":63.8,"v":1.5},{"t":64.3,"v":0.2},{"t":64.7,"v":1.8},{"t":65.2,"v":2.9},{"t":65.7,"v":1.0},{"t":66.2,"v":-0.5},
      {"t":66.6,"v":1.5},{"t":67.1,"v":2.9},{"t":67.6,"v":2.0},{"t":68.1,"v":1.2},{"t":68.6,"v":0.8},{"t":69.1,"v":1.2},{"t":69.6,"v":3.0},{"t":70.0,"v":4.5},{"t":70.5,"v":4.2},{"t":71.0,"v":3.9},
      {"t":71.5,"v":2.0},{"t":72.0,"v":2.5},{"t":72.4,"v":3.3},{"t":72.8,"v":3.0}
    ],
    "by": [
      {"t":0.2,"v":-1.1},{"t":0.8,"v":-0.8},{"t":1.4,"v":-0.6},{"t":1.8,"v":-0.5},{"t":2.5,"v":-0.1},{"t":3.2,"v":0.2},{"t":3.9,"v":1.5},{"t":4.6,"v":2.5},{"t":5.1,"v":2.9},{"t":5.6,"v":3.2},
      {"t":6.1,"v":2.0},{"t":6.6,"v":1.2},{"t":7.1,"v":0.4},{"t":7.5,"v":-0.5},{"t":8.0,"v":1.5},{"t":8.5,"v":3.2},{"t":9.0,"v":3.4},{"t":9.45,"v":3.5},{"t":9.9,"v":3.0},{"t":10.4,"v":3.2},
      {"t":10.9,"v":3.6},{"t":11.4,"v":3.5},{"t":11.9,"v":2.6},{"t":12.3,"v":1.9},{"t":12.8,"v":2.8},{"t":13.3,"v":3.2},{"t":13.8,"v":2.5},{"t":14.2,"v":2.2},{"t":14.7,"v":1.4},{"t":15.2,"v":0.9},
      {"t":15.7,"v":1.4},{"t":16.2,"v":1.2},{"t":16.7,"v":1.7},{"t":17.1,"v":1.9},{"t":17.6,"v":1.4},{"t":18.1,"v":0.9},{"t":18.6,"v":1.6},{"t":19.1,"v":2.5},{"t":19.5,"v":2.7},{"t":20.0,"v":2.9},
      {"t":20.5,"v":2.4},{"t":21.0,"v":2.5},{"t":21.5,"v":2.8},{"t":22.0,"v":2.9},{"t":22.4,"v":2.5},{"t":22.9,"v":2.2},{"t":23.4,"v":1.6},{"t":23.9,"v":1.2},{"t":24.4,"v":1.4},{"t":24.8,"v":1.2},
      {"t":25.3,"v":0.7},{"t":25.8,"v":0.2},{"t":26.3,"v":-0.5},{"t":26.8,"v":-1.1},{"t":27.2,"v":-0.6},{"t":27.7,"v":-0.1},{"t":28.2,"v":0.8},{"t":28.7,"v":1.2},{"t":29.1,"v":0.9},{"t":29.6,"v":0.5},
      {"t":30.1,"v":0.2},{"t":30.6,"v":-0.1},{"t":31.1,"v":0.1},{"t":31.6,"v":0.2},{"t":32.0,"v":0.0},{"t":32.5,"v":0.2},{"t":33.0,"v":0.6},{"t":33.5,"v":0.9},{"t":34.0,"v":1.2},{"t":34.5,"v":1.5},
      {"t":35.0,"v":1.1},{"t":35.4,"v":1.2},{"t":35.9,"v":1.4},{"t":36.4,"v":1.2},{"t":36.9,"v":0.9},{"t":37.3,"v":0.9},{"t":37.8,"v":1.1},{"t":38.3,"v":0.9},{"t":38.8,"v":1.1},{"t":39.3,"v":1.2},
      {"t":39.7,"v":1.4},{"t":40.2,"v":1.5},{"t":40.7,"v":1.3},{"t":41.2,"v":1.5},{"t":41.7,"v":1.8},{"t":42.1,"v":1.9},{"t":42.6,"v":2.2},{"t":43.1,"v":2.5},{"t":43.6,"v":2.1},{"t":44.1,"v":1.9},
      {"t":44.5,"v":1.6},{"t":45.0,"v":1.5},{"t":45.5,"v":1.8},{"t":46.0,"v":1.9},{"t":46.5,"v":2.2},{"t":46.95,"v":2.5},{"t":47.4,"v":2.4},{"t":47.9,"v":2.5},{"t":48.4,"v":2.7},{"t":48.9,"v":2.9},
      {"t":49.3,"v":2.8},{"t":49.8,"v":2.9},{"t":50.3,"v":3.1},{"t":50.8,"v":3.2},{"t":51.1,"v":1.5},{"t":51.3,"v":0.5},{"t":51.8,"v":0.9},{"t":52.2,"v":0.3},{"t":52.7,"v":0.5},{"t":53.2,"v":-0.2},
      {"t":53.7,"v":-0.8},{"t":54.2,"v":-0.2},{"t":54.6,"v":-0.5},{"t":55.1,"v":-1.0},{"t":55.6,"v":-1.5},{"t":56.1,"v":-3.0},{"t":56.6,"v":-4.1},{"t":57.0,"v":-3.2},{"t":57.5,"v":-2.1},{"t":58.0,"v":-1.0},
      {"t":58.5,"v":-0.1},{"t":59.0,"v":0.8},{"t":59.5,"v":1.2},{"t":59.9,"v":-0.5},{"t":60.3,"v":-2.1},{"t":60.9,"v":-3.8},{"t":61.4,"v":-4.8},{"t":61.9,"v":-3.5},{"t":62.3,"v":-2.1},{"t":62.8,"v":-3.9},
      {"t":63.3,"v":-5.1},{"t":63.8,"v":-3.4},{"t":64.3,"v":-2.1},{"t":64.7,"v":-4.3},{"t":65.2,"v":-5.8},{"t":65.7,"v":-4.6},{"t":66.2,"v":-2.8},{"t":66.7,"v":-0.6},{"t":67.1,"v":1.2},{"t":67.6,"v":-1.8},
      {"t":68.1,"v":-4.8},{"t":68.6,"v":-2.0},{"t":69.1,"v":1.2},{"t":69.5,"v":-0.5},{"t":70.0,"v":-2.1},{"t":70.5,"v":-3.6},{"t":71.0,"v":-4.8},{"t":71.5,"v":-2.6},{"t":72.0,"v":0.5},{"t":72.4,"v":-0.4},
      {"t":72.8,"v":-1.0}
    ],
    "bz": [
      {"t":0.2,"v":0.9},{"t":0.8,"v":0.6},{"t":1.4,"v":0.8},{"t":1.8,"v":0.5},{"t":2.5,"v":0.9},{"t":3.2,"v":1.2},{"t":3.9,"v":1.0},{"t":4.6,"v":0.9},{"t":5.3,"v":0.5},{"t":6.1,"v":-0.1},
      {"t":6.6,"v":-0.8},{"t":7.05,"v":-1.5},{"t":7.6,"v":-2.6},{"t":8.25,"v":-3.5},{"t":8.8,"v":-3.0},{"t":9.45,"v":-2.8},{"t":9.7,"v":-0.5},{"t":9.93,"v":1.2},{"t":10.4,"v":0.8},{"t":10.9,"v":0.5},
      {"t":11.4,"v":-0.8},{"t":11.86,"v":-2.1},{"t":12.3,"v":-1.0},{"t":12.8,"v":-0.1},{"t":13.3,"v":-1.5},{"t":13.8,"v":-2.8},{"t":14.2,"v":-1.6},{"t":14.7,"v":-0.8},{"t":15.2,"v":-1.3},{"t":15.7,"v":-1.8},
      {"t":16.2,"v":-1.0},{"t":16.7,"v":-0.5},{"t":17.1,"v":-0.1},{"t":17.6,"v":0.2},{"t":18.1,"v":-0.5},{"t":18.6,"v":-1.1},{"t":19.1,"v":0.4},{"t":19.5,"v":1.9},{"t":20.0,"v":1.0},{"t":20.5,"v":0.2},
      {"t":21.0,"v":0.1},{"t":21.5,"v":-0.1},{"t":22.0,"v":0.6},{"t":22.4,"v":1.2},{"t":22.9,"v":0.7},{"t":23.4,"v":0.2},{"t":23.9,"v":-0.3},{"t":24.4,"v":-0.8},{"t":24.8,"v":-0.2},{"t":25.3,"v":0.5},
      {"t":25.8,"v":0.9},{"t":26.3,"v":1.2},{"t":26.8,"v":1.8},{"t":27.2,"v":2.2},{"t":27.6,"v":2.9},{"t":28.0,"v":3.5},{"t":28.3,"v":1.5},{"t":28.7,"v":-0.1},{"t":29.1,"v":-0.9},{"t":29.6,"v":-1.5},
      {"t":30.1,"v":-1.7},{"t":30.6,"v":-1.8},{"t":31.1,"v":-1.2},{"t":31.6,"v":-0.8},{"t":32.0,"v":-0.6},{"t":32.5,"v":-0.5},{"t":33.0,"v":-0.1},{"t":33.5,"v":0.2},{"t":34.0,"v":0.1},{"t":34.5,"v":-0.1},
      {"t":35.0,"v":0.2},{"t":35.4,"v":0.5},{"t":35.9,"v":0.2},{"t":36.4,"v":-0.1},{"t":36.9,"v":0.1},{"t":37.3,"v":0.2},{"t":37.8,"v":0.4},{"t":38.3,"v":0.5},{"t":38.8,"v":-0.6},{"t":39.3,"v":-1.5},
      {"t":39.7,"v":-1.9},{"t":40.2,"v":-2.1},{"t":40.7,"v":-1.9},{"t":41.2,"v":-1.8},{"t":41.7,"v":-2.0},{"t":42.1,"v":-2.1},{"t":42.6,"v":-1.2},{"t":43.1,"v":-0.1},{"t":43.5,"v":1.5},{"t":43.8,"v":2.5},
      {"t":44.1,"v":1.8},{"t":44.5,"v":1.2},{"t":45.0,"v":0.8},{"t":45.5,"v":0.5},{"t":46.0,"v":0.9},{"t":46.5,"v":1.2},{"t":46.8,"v":-0.5},{"t":47.2,"v":-1.8},{"t":47.8,"v":-1.4},{"t":48.4,"v":-1.1},
      {"t":49.1,"v":-1.3},{"t":49.8,"v":-1.5},{"t":50.5,"v":-1.0},{"t":51.3,"v":-0.5},{"t":51.8,"v":0.8},{"t":52.2,"v":1.9},{"t":52.7,"v":0.5},{"t":53.2,"v":-0.8},{"t":53.7,"v":0.5},{"t":54.2,"v":1.9},
      {"t":54.6,"v":1.7},{"t":55.1,"v":1.5},{"t":55.6,"v":-0.3},{"t":56.1,"v":-2.1},{"t":56.6,"v":0.5},{"t":57.0,"v":3.2},{"t":57.3,"v":0.5},{"t":57.5,"v":-2.1},{"t":58.0,"v":-1.0},{"t":58.5,"v":-0.1},
      {"t":58.9,"v":3.0},{"t":59.2,"v":5.9},{"t":59.5,"v":2.0},{"t":59.9,"v":-2.1},{"t":60.4,"v":-4.0},{"t":60.9,"v":-5.5},{"t":61.4,"v":-2.5},{"t":61.9,"v":0.5},{"t":62.3,"v":4.5},{"t":62.8,"v":0.5},
      {"t":63.3,"v":-3.5},{"t":63.8,"v":-2.8},{"t":64.3,"v":-2.1},{"t":64.7,"v":1.5},{"t":65.0,"v":4.9},{"t":65.4,"v":0.0},{"t":65.7,"v":-4.1},{"t":66.2,"v":-3.0},{"t":66.7,"v":-2.1},{"t":67.1,"v":0.8},
      {"t":67.4,"v":3.2},{"t":67.8,"v":0.0},{"t":68.1,"v":-2.8},{"t":68.6,"v":-3.2},{"t":69.1,"v":-3.5},{"t":69.6,"v":-1.0},{"t":70.0,"v":1.9},{"t":70.5,"v":0.0},{"t":71.0,"v":-2.1},{"t":71.5,"v":0.5},
      {"t":72.0,"v":3.9},{"t":72.4,"v":2.5},{"t":72.8,"v":1.5}
    ],
    "sym": [
      {"t":0.2,"v":-8.8},{"t":0.5,"v":-8.0},{"t":0.9,"v":-6.5},{"t":1.34,"v":-5.7},{"t":1.8,"v":-5.4},{"t":2.37,"v":-5.0},{"t":2.9,"v":-5.6},{"t":3.41,"v":-6.2},{"t":3.9,"v":-5.8},{"t":4.3,"v":-4.8},
      {"t":4.69,"v":-4.5},{"t":5.2,"v":-5.0},{"t":5.6,"v":-4.7},{"t":5.99,"v":-5.3},{"t":6.3,"v":-7.0},{"t":6.5,"v":-9.5},{"t":7.0,"v":-10.2},{"t":7.53,"v":-11.2},{"t":8.0,"v":-12.0},{"t":8.3,"v":-13.5},
      {"t":8.56,"v":-14.6},{"t":8.9,"v":-16.5},{"t":9.34,"v":-19.1},{"t":9.7,"v":-18.6},{"t":10.11,"v":-20.1},{"t":10.4,"v":-19.6},{"t":10.76,"v":-21.3},{"t":11.1,"v":-19.5},{"t":11.4,"v":-17.1},{"t":11.9,"v":-15.8},
      {"t":12.44,"v":-14.6},{"t":12.9,"v":-15.3},{"t":13.3,"v":-14.4},{"t":13.73,"v":-15.1},{"t":14.2,"v":-15.8},{"t":14.76,"v":-16.3},{"t":15.3,"v":-15.7},{"t":15.8,"v":-17.1},{"t":16.3,"v":-16.0},{"t":16.82,"v":-15.1},
      {"t":17.3,"v":-14.5},{"t":17.85,"v":-12.9},{"t":18.4,"v":-11.7},{"t":18.89,"v":-10.7},{"t":19.4,"v":-10.2},{"t":19.92,"v":-9.0},{"t":20.4,"v":-8.6},{"t":20.95,"v":-7.8},{"t":21.5,"v":-7.6},{"t":21.99,"v":-7.3},
      {"t":22.5,"v":-6.6},{"t":23.02,"v":-5.7},{"t":23.5,"v":-4.6},{"t":24.05,"v":-3.3},{"t":24.6,"v":-2.6},{"t":25.09,"v":-1.7},{"t":25.6,"v":-1.2},{"t":26.12,"v":-0.3},{"t":26.6,"v":-0.8},{"t":27.14,"v":0.0},
      {"t":27.7,"v":-0.4},{"t":28.18,"v":0.5},{"t":28.7,"v":-0.2},{"t":29.21,"v":-1.2},{"t":29.7,"v":-3.2},{"t":30.24,"v":-5.0},{"t":30.8,"v":-4.7},{"t":31.28,"v":-5.3},{"t":31.8,"v":-5.0},{"t":32.31,"v":-5.7},
      {"t":32.8,"v":-5.1},{"t":33.34,"v":-4.5},{"t":33.9,"v":-4.1},{"t":34.38,"v":-3.7},{"t":34.9,"v":-4.3},{"t":35.41,"v":-4.5},{"t":36.0,"v":-4.9},{"t":36.7,"v":-5.3},{"t":37.19,"v":-4.5},{"t":37.8,"v":-3.6},
      {"t":38.5,"v":-2.8},{"t":38.9,"v":-3.8},{"t":39.28,"v":-6.2},{"t":39.8,"v":-6.5},{"t":40.28,"v":-6.2},{"t":40.8,"v":-4.8},{"t":41.34,"v":-3.7},{"t":41.8,"v":-3.0},{"t":42.37,"v":-2.3},{"t":42.8,"v":-3.2},
      {"t":43.15,"v":-4.5},{"t":43.5,"v":-6.5},{"t":43.92,"v":-8.3},{"t":44.3,"v":-7.5},{"t":44.7,"v":-6.2},{"t":45.2,"v":-4.8},{"t":45.7,"v":-3.7},{"t":46.3,"v":-2.9},{"t":47.0,"v":-2.0},{"t":47.8,"v":-1.2},
      {"t":48.57,"v":-0.3},{"t":49.1,"v":-0.9},{"t":49.57,"v":-2.0},{"t":50.1,"v":-4.0},{"t":50.63,"v":-6.2},{"t":51.0,"v":-7.0},{"t":51.41,"v":-6.7},{"t":51.8,"v":-5.2},{"t":52.18,"v":-3.7},{"t":52.6,"v":-1.5},
      {"t":52.95,"v":0.5},{"t":53.3,"v":2.5},{"t":53.6,"v":4.0},{"t":54.0,"v":5.0},{"t":54.37,"v":6.0},{"t":54.8,"v":7.0},{"t":55.15,"v":7.5},{"t":55.5,"v":7.9},{"t":55.92,"v":7.0},{"t":56.3,"v":6.1},
      {"t":56.7,"v":5.0},{"t":57.1,"v":5.4},{"t":57.47,"v":5.0},{"t":57.9,"v":4.6},{"t":58.25,"v":4.0},{"t":58.6,"v":3.5},{"t":58.79,"v":3.0},{"t":58.9,"v":-5.5},{"t":59.4,"v":-2.8},{"t":59.9,"v":-3.4},
      {"t":60.4,"v":-2.6},{"t":60.95,"v":-2.8},{"t":61.5,"v":-3.6},{"t":62.0,"v":-4.2},{"t":62.5,"v":-5.3},{"t":63.0,"v":-6.0},{"t":63.5,"v":-7.0},{"t":63.9,"v":-8.8},{"t":64.28,"v":-10.4},{"t":64.8,"v":-9.6},
      {"t":65.34,"v":-9.0},{"t":65.7,"v":-10.0},{"t":66.12,"v":-11.2},{"t":66.6,"v":-9.8},{"t":67.15,"v":-9.5},{"t":67.8,"v":-9.9},{"t":68.44,"v":-9.5},{"t":68.8,"v":-10.3},{"t":69.21,"v":-10.7},{"t":69.8,"v":-10.2},
      {"t":70.5,"v":-10.7},{"t":70.9,"v":-10.9},{"t":71.27,"v":-9.5},{"t":71.7,"v":-7.5},{"t":72.05,"v":-5.3},{"t":72.4,"v":-3.8},{"t":72.8,"v":-2.5}
    ],
    "imfLab": [{"comp": "X"}, {"comp": "Y"}, {"comp": "Z"}]
  },
  "vconcat": [
    {
      "title": {"text": "ID4: Galactic ridge", "fontSize": 24, "fontWeight": "normal", "font": "DejaVu Sans", "color": "black", "offset": 16},
      "width": 938, "height": 36,
      "view": {"stroke": null},
      "data": {"name": "periods"},
      "layer": [
        {
          "mark": {"type": "rule", "color": "black", "strokeWidth": 3},
          "encoding": {
            "x": {"field": "t0", "type": "quantitative", "scale": {"domain": [0.18, 72.77], "nice": false, "zero": false}, "axis": null},
            "x2": {"field": "t1"},
            "y": {"datum": 0.3, "type": "quantitative", "scale": {"domain": [0, 1]}, "axis": null}
          }
        },
        {
          "transform": [{"calculate": "(datum.t0 + datum.t1) / 2", "as": "tm"}],
          "mark": {"type": "text", "fontSize": 20, "font": "DejaVu Sans", "color": "black", "baseline": "middle", "align": "center"},
          "encoding": {
            "x": {"field": "tm", "type": "quantitative", "scale": {"domain": [0.18, 72.77], "nice": false, "zero": false}, "axis": null},
            "y": {"datum": 0.8, "type": "quantitative", "scale": {"domain": [0, 1]}, "axis": null},
            "text": {"field": "lab"}
          }
        }
      ]
    },
    {
      "bounds": "flush",
      "spacing": 20,
      "vconcat": [
        {
          "width": 938, "height": 99,
          "data": {"name": "xr"},
          "layer": [
            {
              "transform": [{"calculate": "datum.t - 0.55", "as": "t0"}, {"calculate": "datum.t + 0.55", "as": "t1"}],
              "mark": {"type": "rule", "color": "black", "strokeWidth": 2.5},
              "encoding": {
                "x": {"field": "t0", "type": "quantitative", "scale": {"domain": [0.18, 72.77], "nice": false, "zero": false},
                      "axis": {"orient": "bottom", "values": [3,6,9,12,15,18,21,24,27,30,33,36,39,42,45,48,51,54,57,60,63,66,69,72], "labels": false, "title": null, "tickSize": {"condition": {"test": "datum.value % 12 == 0", "value": -10}, "value": -5}}},
                "x2": {"field": "t1"},
                "y": {"field": "a", "type": "quantitative", "scale": {"domain": [0, 0.04], "nice": false},
                      "axis": {"orient": "left", "values": [0,0.002,0.004,0.006,0.008,0.01,0.012,0.014,0.016,0.018,0.02,0.022,0.024,0.026,0.028,0.03,0.032,0.034,0.036,0.038,0.04],
                               "tickSize": {"condition": {"test": "abs(datum.value*100 - round(datum.value*100)) < 0.001", "value": -10}, "value": -5},
                               "labels": false, "title": null}}
              }
            },
            {
              "transform": [{"calculate": "datum.a - datum.ea", "as": "a0"}, {"calculate": "datum.a + datum.ea", "as": "a1"}],
              "mark": {"type": "rule", "color": "black", "strokeWidth": 2.5},
              "encoding": {
                "x": {"field": "t", "type": "quantitative", "scale": {"domain": [0.18, 72.77], "nice": false, "zero": false},
                      "axis": {"orient": "top", "values": [3,6,9,12,15,18,21,24,27,30,33,36,39,42,45,48,51,54,57,60,63,66,69,72], "labels": false, "title": null, "tickSize": {"condition": {"test": "datum.value % 12 == 0", "value": -10}, "value": -5}}},
                "y": {"field": "a0", "type": "quantitative", "scale": {"domain": [0, 0.04], "nice": false},
                      "axis": {"orient": "right", "values": [0,0.002,0.004,0.006,0.008,0.01,0.012,0.014,0.016,0.018,0.02,0.022,0.024,0.026,0.028,0.03,0.032,0.034,0.036,0.038,0.04],
                               "tickSize": {"condition": {"test": "abs(datum.value*100 - round(datum.value*100)) < 0.001", "value": -10}, "value": -5},
                               "labels": false, "title": null}},
                "y2": {"field": "a1"}
              }
            },
            {
              "mark": {"type": "point", "opacity": 0},
              "encoding": {
                "x": {"field": "t", "type": "quantitative", "scale": {"domain": [0.18, 72.77], "nice": false, "zero": false}, "axis": null},
                "y": {"field": "a", "type": "quantitative", "scale": {"domain": [0, 0.04], "nice": false},
                      "axis": {"orient": "left", "values": [0,0.01,0.02,0.03,0.04], "ticks": false, "tickSize": 0, "format": ".2f", "title": ["0.5-0.7 keV", "[cts s⁻¹]"]}}
              }
            }
          ],
          "resolve": {"axis": {"x": "independent", "y": "independent"}}
        },
        {
          "width": 938, "height": 99,
          "data": {"name": "xr"},
          "layer": [
            {
              "transform": [{"calculate": "datum.t - 0.55", "as": "t0"}, {"calculate": "datum.t + 0.55", "as": "t1"}],
              "mark": {"type": "rule", "color": "black", "strokeWidth": 2.5},
              "encoding": {
                "x": {"field": "t0", "type": "quantitative", "scale": {"domain": [0.18, 72.77], "nice": false, "zero": false},
                      "axis": {"orient": "bottom", "values": [3,6,9,12,15,18,21,24,27,30,33,36,39,42,45,48,51,54,57,60,63,66,69,72], "labels": false, "title": null, "tickSize": {"condition": {"test": "datum.value % 12 == 0", "value": -10}, "value": -5}}},
                "x2": {"field": "t1"},
                "y": {"field": "b", "type": "quantitative", "scale": {"domain": [0, 0.15], "nice": false},
                      "axis": {"orient": "left", "values": [0,0.01,0.02,0.03,0.04,0.05,0.06,0.07,0.08,0.09,0.1,0.11,0.12,0.13,0.14,0.15],
                               "tickSize": {"condition": {"test": "abs(datum.value*20 - round(datum.value*20)) < 0.001", "value": -10}, "value": -5},
                               "labels": false, "title": null}}
              }
            },
            {
              "transform": [{"calculate": "datum.b - datum.eb", "as": "b0"}, {"calculate": "datum.b + datum.eb", "as": "b1"}],
              "mark": {"type": "rule", "color": "black", "strokeWidth": 2.5},
              "encoding": {
                "x": {"field": "t", "type": "quantitative", "scale": {"domain": [0.18, 72.77], "nice": false, "zero": false},
                      "axis": {"orient": "top", "values": [3,6,9,12,15,18,21,24,27,30,33,36,39,42,45,48,51,54,57,60,63,66,69,72], "labels": false, "title": null, "tickSize": {"condition": {"test": "datum.value % 12 == 0", "value": -10}, "value": -5}}},
                "y": {"field": "b0", "type": "quantitative", "scale": {"domain": [0, 0.15], "nice": false},
                      "axis": {"orient": "right", "values": [0,0.01,0.02,0.03,0.04,0.05,0.06,0.07,0.08,0.09,0.1,0.11,0.12,0.13,0.14,0.15],
                               "tickSize": {"condition": {"test": "abs(datum.value*20 - round(datum.value*20)) < 0.001", "value": -10}, "value": -5},
                               "labels": false, "title": null}},
                "y2": {"field": "b1"}
              }
            },
            {
              "mark": {"type": "point", "opacity": 0},
              "encoding": {
                "x": {"field": "t", "type": "quantitative", "scale": {"domain": [0.18, 72.77], "nice": false, "zero": false}, "axis": null},
                "y": {"field": "b", "type": "quantitative", "scale": {"domain": [0, 0.15], "nice": false},
                      "axis": {"orient": "left", "values": [0,0.05,0.1,0.15], "ticks": false, "tickSize": 0, "format": ".2f", "title": ["2.5-5 keV", "[cts s⁻¹]"]}}
              }
            }
          ],
          "resolve": {"axis": {"x": "independent", "y": "independent"}}
        },
        {
          "width": 938, "height": 99,
          "layer": [
            {
              "data": {"name": "npB"},
              "mark": {"type": "line", "color": "black", "strokeWidth": 3, "clip": true, "invalid": "break-paths-filter-domains"},
              "encoding": {
                "x": {"field": "t", "type": "quantitative", "scale": {"domain": [0.18, 72.77], "nice": false, "zero": false},
                      "axis": {"orient": "bottom", "values": [3,6,9,12,15,18,21,24,27,30,33,36,39,42,45,48,51,54,57,60,63,66,69,72], "labels": false, "title": null, "tickSize": {"condition": {"test": "datum.value % 12 == 0", "value": -10}, "value": -5}}},
                "y": {"field": "v", "type": "quantitative", "scale": {"domain": [0, 25], "nice": false},
                      "axis": {"orient": "left", "values": [0,1,2,3,4,5,6,7,8,9,10,11,12,13,14,15,16,17,18,19,20,21,22,23,24,25],
                               "tickSize": {"condition": {"test": "datum.value % 5 == 0", "value": -10}, "value": -5},
                               "labels": false, "title": null}}
              }
            },
            {
              "data": {"name": "npR"},
              "mark": {"type": "line", "color": "#ff0000", "strokeWidth": 3, "clip": true, "invalid": "break-paths-filter-domains"},
              "encoding": {
                "x": {"field": "t", "type": "quantitative", "scale": {"domain": [0.18, 72.77], "nice": false, "zero": false},
                      "axis": {"orient": "top", "values": [3,6,9,12,15,18,21,24,27,30,33,36,39,42,45,48,51,54,57,60,63,66,69,72], "labels": false, "title": null, "tickSize": {"condition": {"test": "datum.value % 12 == 0", "value": -10}, "value": -5}}},
                "y": {"field": "v", "type": "quantitative", "scale": {"domain": [0, 25], "nice": false},
                      "axis": {"orient": "right", "values": [0,1,2,3,4,5,6,7,8,9,10,11,12,13,14,15,16,17,18,19,20,21,22,23,24,25],
                               "tickSize": {"condition": {"test": "datum.value % 5 == 0", "value": -10}, "value": -5},
                               "labels": false, "title": null}}
              }
            },
            {
              "data": {"name": "npB"},
              "mark": {"type": "line", "strokeOpacity": 0, "clip": true, "invalid": "break-paths-filter-domains"},
              "encoding": {
                "x": {"field": "t", "type": "quantitative", "axis": null},
                "y": {"field": "v", "type": "quantitative", "scale": {"domain": [0, 25], "nice": false},
                      "axis": {"orient": "left", "values": [0,5,10,15,20,25], "ticks": false, "tickSize": 0, "format": "d", "title": ["nₚ", "[cm⁻³]"]}}
              }
            }
          ],
          "resolve": {"axis": {"x": "independent", "y": "independent"}}
        },
        {
          "width": 938, "height": 99,
          "data": {"name": "vp"},
          "layer": [
            {
              "mark": {"type": "line", "color": "black", "strokeWidth": 3, "clip": true},
              "encoding": {
                "x": {"field": "t", "type": "quantitative", "scale": {"domain": [0.18, 72.77], "nice": false, "zero": false},
                      "axis": {"orient": "bottom", "values": [3,6,9,12,15,18,21,24,27,30,33,36,39,42,45,48,51,54,57,60,63,66,69,72], "labels": false, "title": null, "tickSize": {"condition": {"test": "datum.value % 12 == 0", "value": -10}, "value": -5}}},
                "y": {"field": "b", "type": "quantitative", "scale": {"domain": [300, 500], "nice": false, "zero": false},
                      "axis": {"orient": "left", "values": [300,310,320,330,340,350,360,370,380,390,400,410,420,430,440,450,460,470,480,490,500],
                               "tickSize": {"condition": {"test": "datum.value % 50 == 0", "value": -10}, "value": -5},
                               "labels": false, "title": null}}
              }
            },
            {
              "mark": {"type": "line", "color": "#ff0000", "strokeWidth": 3, "clip": true},
              "encoding": {
                "x": {"field": "t", "type": "quantitative", "scale": {"domain": [0.18, 72.77], "nice": false, "zero": false},
                      "axis": {"orient": "top", "values": [3,6,9,12,15,18,21,24,27,30,33,36,39,42,45,48,51,54,57,60,63,66,69,72], "labels": false, "title": null, "tickSize": {"condition": {"test": "datum.value % 12 == 0", "value": -10}, "value": -5}}},
                "y": {"field": "r", "type": "quantitative", "scale": {"domain": [300, 500], "nice": false, "zero": false},
                      "axis": {"orient": "right", "values": [300,310,320,330,340,350,360,370,380,390,400,410,420,430,440,450,460,470,480,490,500],
                               "tickSize": {"condition": {"test": "datum.value % 50 == 0", "value": -10}, "value": -5},
                               "labels": false, "title": null}}
              }
            },
            {
              "mark": {"type": "line", "strokeOpacity": 0, "clip": true},
              "encoding": {
                "x": {"field": "t", "type": "quantitative", "axis": null},
                "y": {"field": "b", "type": "quantitative", "scale": {"domain": [300, 500], "nice": false, "zero": false},
                      "axis": {"orient": "left", "values": [300,350,400,450,500], "ticks": false, "tickSize": 0, "format": "d", "title": ["vₚ", "[km s⁻¹]"]}}
              }
            }
          ],
          "resolve": {"axis": {"x": "independent", "y": "independent"}}
        },
        {
          "width": 938, "height": 99,
          "layer": [
            {
              "data": {"name": "heB"},
              "mark": {"type": "line", "color": "black", "strokeWidth": 3, "clip": true, "invalid": "break-paths-filter-domains"},
              "encoding": {
                "x": {"field": "t", "type": "quantitative", "scale": {"domain": [0.18, 72.77], "nice": false, "zero": false},
                      "axis": {"orient": "bottom", "values": [3,6,9,12,15,18,21,24,27,30,33,36,39,42,45,48,51,54,57,60,63,66,69,72], "labels": false, "title": null, "tickSize": {"condition": {"test": "datum.value % 12 == 0", "value": -10}, "value": -5}}},
                "y": {"field": "v", "type": "quantitative", "scale": {"domain": [0, 0.1], "nice": false},
                      "axis": {"orient": "left", "values": [0,0.005,0.01,0.015,0.02,0.025,0.03,0.035,0.04,0.045,0.05,0.055,0.06,0.065,0.07,0.075,0.08,0.085,0.09,0.095,0.1],
                               "tickSize": {"condition": {"test": "abs(datum.value*50 - round(datum.value*50)) < 0.001", "value": -10}, "value": -5},
                               "labels": false, "title": null}}
              }
            },
            {
              "data": {"name": "heR"},
              "mark": {"type": "line", "color": "#ff0000", "strokeWidth": 3, "clip": true, "invalid": "break-paths-filter-domains"},
              "encoding": {
                "x": {"field": "t", "type": "quantitative", "scale": {"domain": [0.18, 72.77], "nice": false, "zero": false},
                      "axis": {"orient": "top", "values": [3,6,9,12,15,18,21,24,27,30,33,36,39,42,45,48,51,54,57,60,63,66,69,72], "labels": false, "title": null, "tickSize": {"condition": {"test": "datum.value % 12 == 0", "value": -10}, "value": -5}}},
                "y": {"field": "v", "type": "quantitative", "scale": {"domain": [0, 0.1], "nice": false},
                      "axis": {"orient": "right", "values": [0,0.005,0.01,0.015,0.02,0.025,0.03,0.035,0.04,0.045,0.05,0.055,0.06,0.065,0.07,0.075,0.08,0.085,0.09,0.095,0.1],
                               "tickSize": {"condition": {"test": "abs(datum.value*50 - round(datum.value*50)) < 0.001", "value": -10}, "value": -5},
                               "labels": false, "title": null}}
              }
            },
            {
              "data": {"name": "heB"},
              "mark": {"type": "line", "strokeOpacity": 0, "clip": true, "invalid": "break-paths-filter-domains"},
              "encoding": {
                "x": {"field": "t", "type": "quantitative", "axis": null},
                "y": {"field": "v", "type": "quantitative", "scale": {"domain": [0, 0.1], "nice": false},
                      "axis": {"orient": "left", "values": [0,0.02,0.04,0.06,0.08,0.1], "ticks": false, "tickSize": 0, "format": ".2f", "title": "He/p", "titleX": -86}}
              }
            }
          ],
          "resolve": {"axis": {"x": "independent", "y": "independent"}}
        },
        {
          "width": 938, "height": 99,
          "layer": [
            {
              "data": {"name": "bx"},
              "mark": {"type": "line", "color": "#ff0000", "strokeWidth": 3, "clip": true},
              "encoding": {
                "x": {"field": "t", "type": "quantitative", "scale": {"domain": [0.18, 72.77], "nice": false, "zero": false},
                      "axis": {"orient": "bottom", "values": [3,6,9,12,15,18,21,24,27,30,33,36,39,42,45,48,51,54,57,60,63,66,69,72], "labels": false, "title": null, "tickSize": {"condition": {"test": "datum.value % 12 == 0", "value": -10}, "value": -5}}},
                "y": {"field": "v", "type": "quantitative", "scale": {"domain": [-10, 10], "nice": false, "zero": false},
                      "axis": {"orient": "left", "values": [-10,-9,-8,-7,-6,-5,-4,-3,-2,-1,0,1,2,3,4,5,6,7,8,9,10],
                               "tickSize": {"condition": {"test": "datum.value % 5 == 0", "value": -10}, "value": -5},
                               "labels": false, "title": null}}
              }
            },
            {
              "data": {"name": "by"},
              "mark": {"type": "line", "color": "#008000", "strokeWidth": 3, "clip": true},
              "encoding": {
                "x": {"field": "t", "type": "quantitative", "scale": {"domain": [0.18, 72.77], "nice": false, "zero": false},
                      "axis": {"orient": "top", "values": [3,6,9,12,15,18,21,24,27,30,33,36,39,42,45,48,51,54,57,60,63,66,69,72], "labels": false, "title": null, "tickSize": {"condition": {"test": "datum.value % 12 == 0", "value": -10}, "value": -5}}},
                "y": {"field": "v", "type": "quantitative", "scale": {"domain": [-10, 10], "nice": false, "zero": false},
                      "axis": {"orient": "right", "values": [-10,-9,-8,-7,-6,-5,-4,-3,-2,-1,0,1,2,3,4,5,6,7,8,9,10],
                               "tickSize": {"condition": {"test": "datum.value % 5 == 0", "value": -10}, "value": -5},
                               "labels": false, "title": null}}
              }
            },
            {
              "data": {"name": "bz"},
              "mark": {"type": "line", "color": "#0000ff", "strokeWidth": 3, "clip": true},
              "encoding": {
                "x": {"field": "t", "type": "quantitative", "axis": null},
                "y": {"field": "v", "type": "quantitative",
                      "axis": {"orient": "left", "values": [-10,-5,0,5,10], "ticks": false, "tickSize": 0, "format": "d", "title": ["IMF", "[nT]"]}}
              }
            },
            {
              "data": {"name": "imfLab"},
              "transform": [{"filter": "datum.comp == 'X'"}],
              "mark": {"type": "text", "text": "B", "fontSize": 21, "fontStyle": "italic", "font": "DejaVu Sans", "color": "#ff0000", "align": "left", "baseline": "middle", "dx": 6},
              "encoding": {"x": {"datum": 72.77, "type": "quantitative", "axis": null}, "y": {"datum": 4.2, "type": "quantitative", "axis": null}}
            },
            {
              "data": {"name": "imfLab"},
              "transform": [{"filter": "datum.comp == 'X'"}],
              "mark": {"type": "text", "fontSize": 14, "font": "DejaVu Sans", "color": "#ff0000", "align": "left", "baseline": "middle", "dx": 20, "dy": 6},
              "encoding": {"x": {"datum": 72.77, "type": "quantitative", "axis": null}, "y": {"datum": 4.2, "type": "quantitative", "axis": null}, "text": {"field": "comp"}}
            },
            {
              "data": {"name": "imfLab"},
              "transform": [{"filter": "datum.comp == 'Y'"}],
              "mark": {"type": "text", "text": "B", "fontSize": 21, "fontStyle": "italic", "font": "DejaVu Sans", "color": "#008000", "align": "left", "baseline": "middle", "dx": 6},
              "encoding": {"x": {"datum": 72.77, "type": "quantitative", "axis": null}, "y": {"datum": 0.2, "type": "quantitative", "axis": null}}
            },
            {
              "data": {"name": "imfLab"},
              "transform": [{"filter": "datum.comp == 'Y'"}],
              "mark": {"type": "text", "fontSize": 14, "font": "DejaVu Sans", "color": "#008000", "align": "left", "baseline": "middle", "dx": 20, "dy": 6},
              "encoding": {"x": {"datum": 72.77, "type": "quantitative", "axis": null}, "y": {"datum": 0.2, "type": "quantitative", "axis": null}, "text": {"field": "comp"}}
            },
            {
              "data": {"name": "imfLab"},
              "transform": [{"filter": "datum.comp == 'Z'"}],
              "mark": {"type": "text", "text": "B", "fontSize": 21, "fontStyle": "italic", "font": "DejaVu Sans", "color": "#0000ff", "align": "left", "baseline": "middle", "dx": 6},
              "encoding": {"x": {"datum": 72.77, "type": "quantitative", "axis": null}, "y": {"datum": -3.8, "type": "quantitative", "axis": null}}
            },
            {
              "data": {"name": "imfLab"},
              "transform": [{"filter": "datum.comp == 'Z'"}],
              "mark": {"type": "text", "fontSize": 14, "font": "DejaVu Sans", "color": "#0000ff", "align": "left", "baseline": "middle", "dx": 20, "dy": 6},
              "encoding": {"x": {"datum": 72.77, "type": "quantitative", "axis": null}, "y": {"datum": -3.8, "type": "quantitative", "axis": null}, "text": {"field": "comp"}}
            }
          ],
          "resolve": {"axis": {"x": "independent", "y": "independent"}}
        },
        {
          "width": 938, "height": 99,
          "data": {"name": "sym"},
          "layer": [
            {
              "mark": {"type": "line", "color": "black", "strokeWidth": 3, "clip": true},
              "encoding": {
                "x": {"field": "t", "type": "quantitative", "scale": {"domain": [0.18, 72.77], "nice": false, "zero": false},
                      "axis": {"orient": "bottom", "values": [3,6,9,12,15,18,21,24,27,30,33,36,39,42,45,48,51,54,57,60,63,66,69,72], "labels": false, "title": null, "tickSize": {"condition": {"test": "datum.value % 12 == 0", "value": -10}, "value": -5}}},
                "y": {"field": "v", "type": "quantitative", "scale": {"domain": [-30, 20], "nice": false, "zero": false},
                      "axis": {"orient": "left", "values": [-30,-28,-26,-24,-22,-20,-18,-16,-14,-12,-10,-8,-6,-4,-2,0,2,4,6,8,10,12,14,16,18,20],
                               "tickSize": {"condition": {"test": "datum.value % 10 == 0", "value": -10}, "value": -5},
                               "labels": false, "title": null}}
              }
            },
            {
              "mark": {"type": "line", "strokeOpacity": 0, "clip": true},
              "encoding": {
                "x": {"field": "t", "type": "quantitative", "scale": {"domain": [0.18, 72.77], "nice": false, "zero": false},
                      "axis": {"orient": "top", "values": [3,6,9,12,15,18,21,24,27,30,33,36,39,42,45,48,51,54,57,60,63,66,69,72], "labels": false, "title": null, "tickSize": {"condition": {"test": "datum.value % 12 == 0", "value": -10}, "value": -5}}},
                "y": {"field": "v", "type": "quantitative", "scale": {"domain": [-30, 20], "nice": false, "zero": false},
                      "axis": {"orient": "right", "values": [-30,-28,-26,-24,-22,-20,-18,-16,-14,-12,-10,-8,-6,-4,-2,0,2,4,6,8,10,12,14,16,18,20],
                               "tickSize": {"condition": {"test": "datum.value % 10 == 0", "value": -10}, "value": -5},
                               "labels": false, "title": null}}
              }
            },
            {
              "mark": {"type": "line", "strokeOpacity": 0, "clip": true},
              "encoding": {
                "x": {"field": "t", "type": "quantitative", "scale": {"domain": [0.18, 72.77], "nice": false, "zero": false},
                      "axis": {"orient": "bottom", "values": [12,24,36,48,60,72], "ticks": false, "tickSize": 0,
                               "labelExpr": "['Oct ' + (28 + floor(datum.value / 24)), datum.value % 24 == 0 ? '00:00' : '12:00']",
                               "labelBaseline": "top", "labelAlign": "center",
                               "title": "Time (UT)"}},
                "y": {"field": "v", "type": "quantitative", "scale": {"domain": [-30, 20], "nice": false, "zero": false},
                      "axis": {"orient": "left", "values": [-30,-20,-10,0,10,20], "ticks": false, "tickSize": 0, "format": "d", "title": ["SYM-H", "[nT]"]}}
              }
            }
          ],
          "resolve": {"axis": {"x": "independent", "y": "independent"}}
        }
      ]
    }
  ],
  "spacing": 2,
  "bounds": "flush"
}
